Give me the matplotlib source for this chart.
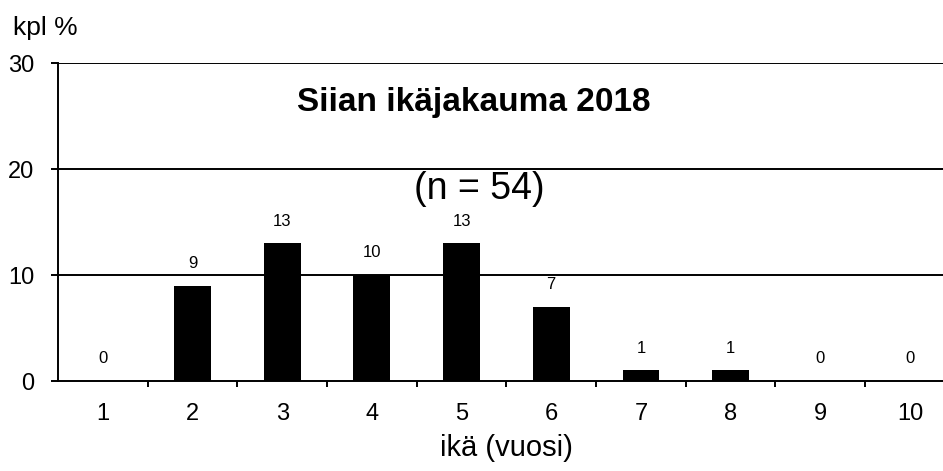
import matplotlib
matplotlib.use("Agg")
import matplotlib.pyplot as plt
import numpy as np

plt.rcParams["font.family"] = ["Liberation Sans", "DejaVu Sans"]

# ── data ─────────────────────────────────────────────
ages   = ["1", "2", "3", "4", "5", "6", "7", "8", "9", "10"]
shares = [0, 9, 13, 10, 13, 7, 1, 1, 0, 0]
y_ticks = [0, 10, 20, 30]

title   = "Siian ikäjakauma 2018"
n_label = "(n = 54)"

fig = plt.figure(figsize=(9.43, 4.71), dpi=100)
# plot area runs slightly past the right edge of the image, as in the original
ax = fig.add_axes([0.0615, 0.191, 0.951, 0.675])

x = np.arange(len(ages))
ax.bar(x, shares, width=0.41, color="black", zorder=3)

# value labels above the bars
for xi, v in zip(x, shares):
    ax.annotate(str(v), (xi, v), xytext=(0, 16), textcoords="offset points",
                ha="center", va="center", fontsize=12)

ax.set_xlim(-0.5, len(ages) - 0.5)
ax.set_ylim(0, 30)

# gridlines
for yv in y_ticks[1:]:
    ax.axhline(yv, color="black", lw=1.4, zorder=1)

ax.set_yticks(y_ticks)
ax.tick_params(axis="y", direction="out", length=5, width=1.4, pad=12, labelsize=17)

ax.set_xticks(x)
ax.set_xticklabels(ages)
ax.set_xticks(np.arange(0.5, len(ages), 1), minor=True)
ax.tick_params(axis="x", which="major", length=0, pad=16, labelsize=17)
ax.tick_params(axis="x", which="minor", direction="out", length=4, width=1.4)

for s in ["top", "right"]:
    ax.spines[s].set_visible(False)
ax.spines["left"].set_linewidth(1.4)
ax.spines["bottom"].set_linewidth(1.4)
ax.spines["bottom"].set_zorder(4)

ax.set_xlabel("ikä (vuosi)", fontsize=21, labelpad=6)

ax.text(0.464, 0.849, title, transform=ax.transAxes, ha="center", va="baseline",
        fontsize=24, fontweight="bold")
ax.text(0.47, 0.572, n_label, transform=ax.transAxes, ha="center", va="baseline",
        fontsize=27)

fig.text(13 / 943, 1 - 35 / 471, "kpl %", ha="left", va="baseline", fontsize=19)

fig.savefig("out.png", dpi=100)
